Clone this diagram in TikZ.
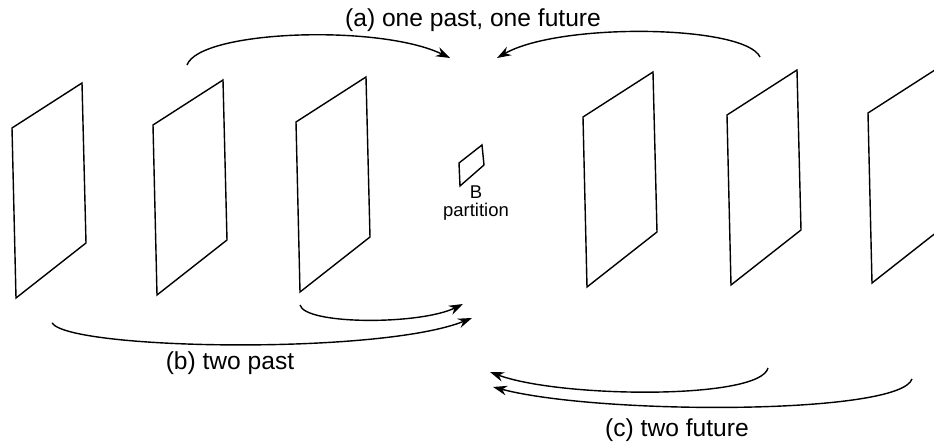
\documentclass[tikz,border=0pt]{standalone}
\usepackage{fontspec}
\setmainfont{Liberation Sans}
\usetikzlibrary{arrows.meta}
\begin{document}
\begin{tikzpicture}[>={Stealth[length=8pt,width=5.5pt]}, x=0.02cm, y=-0.02cm, line width=0.8pt]
\useasboundingbox (0,0) rectangle (934,445);
\clip (0,0) rectangle (934,445);
% frames
\foreach \fx/\fy in {12/128, 153/125, 296/122, 583/117, 727/115, 868/113}
  \draw (\fx,\fy) -- ++(70,-45) -- ++(4,160) -- ++(-70,55) -- cycle;
% B partition
\draw (459,163) -- (482,145) -- (484,165) -- (460,186) -- cycle;
\node[font=\fontsize{10.5}{12}\selectfont, align=center] (part) at (476,203) {B\\[-2pt]partition};
% arrow ends
\coordinate (pa) at (187,65);
\coordinate (ta) at (450,58);
\coordinate (fa) at (760,57);
\coordinate (tf) at (497,58);
\coordinate (pb1) at (300,305);
\coordinate (tb1) at (463,304);
\coordinate (pb2) at (52,323);
\coordinate (tb2) at (472,318);
\coordinate (fc1) at (768,368);
\coordinate (tc1) at (490,372);
\coordinate (fc2) at (912,379);
\coordinate (tc2) at (493,387);
\draw[->] (pa) .. controls (200,30) and (380,24) .. (ta);
\draw[->] (fa) .. controls (745,25) and (560,22) .. (tf);
\draw[->] (pb1) .. controls (305,325) and (420,325) .. (tb1);
\draw[->] (pb2) .. controls (70,350) and (380,355) .. (tb2);
\draw[->] (fc1) .. controls (760,400) and (560,398) .. (tc1);
\draw[->] (fc2) .. controls (900,415) and (600,415) .. (tc2);
% labels
\node[font=\fontsize{14}{16}\selectfont] (la) at (473,20) {(a) one past, one future};
\node[font=\fontsize{14}{16}\selectfont] (lb) at (230,363) {(b) two past};
\node[font=\fontsize{14}{16}\selectfont] (lc) at (677,430) {(c) two future};
\end{tikzpicture}
\end{document}
